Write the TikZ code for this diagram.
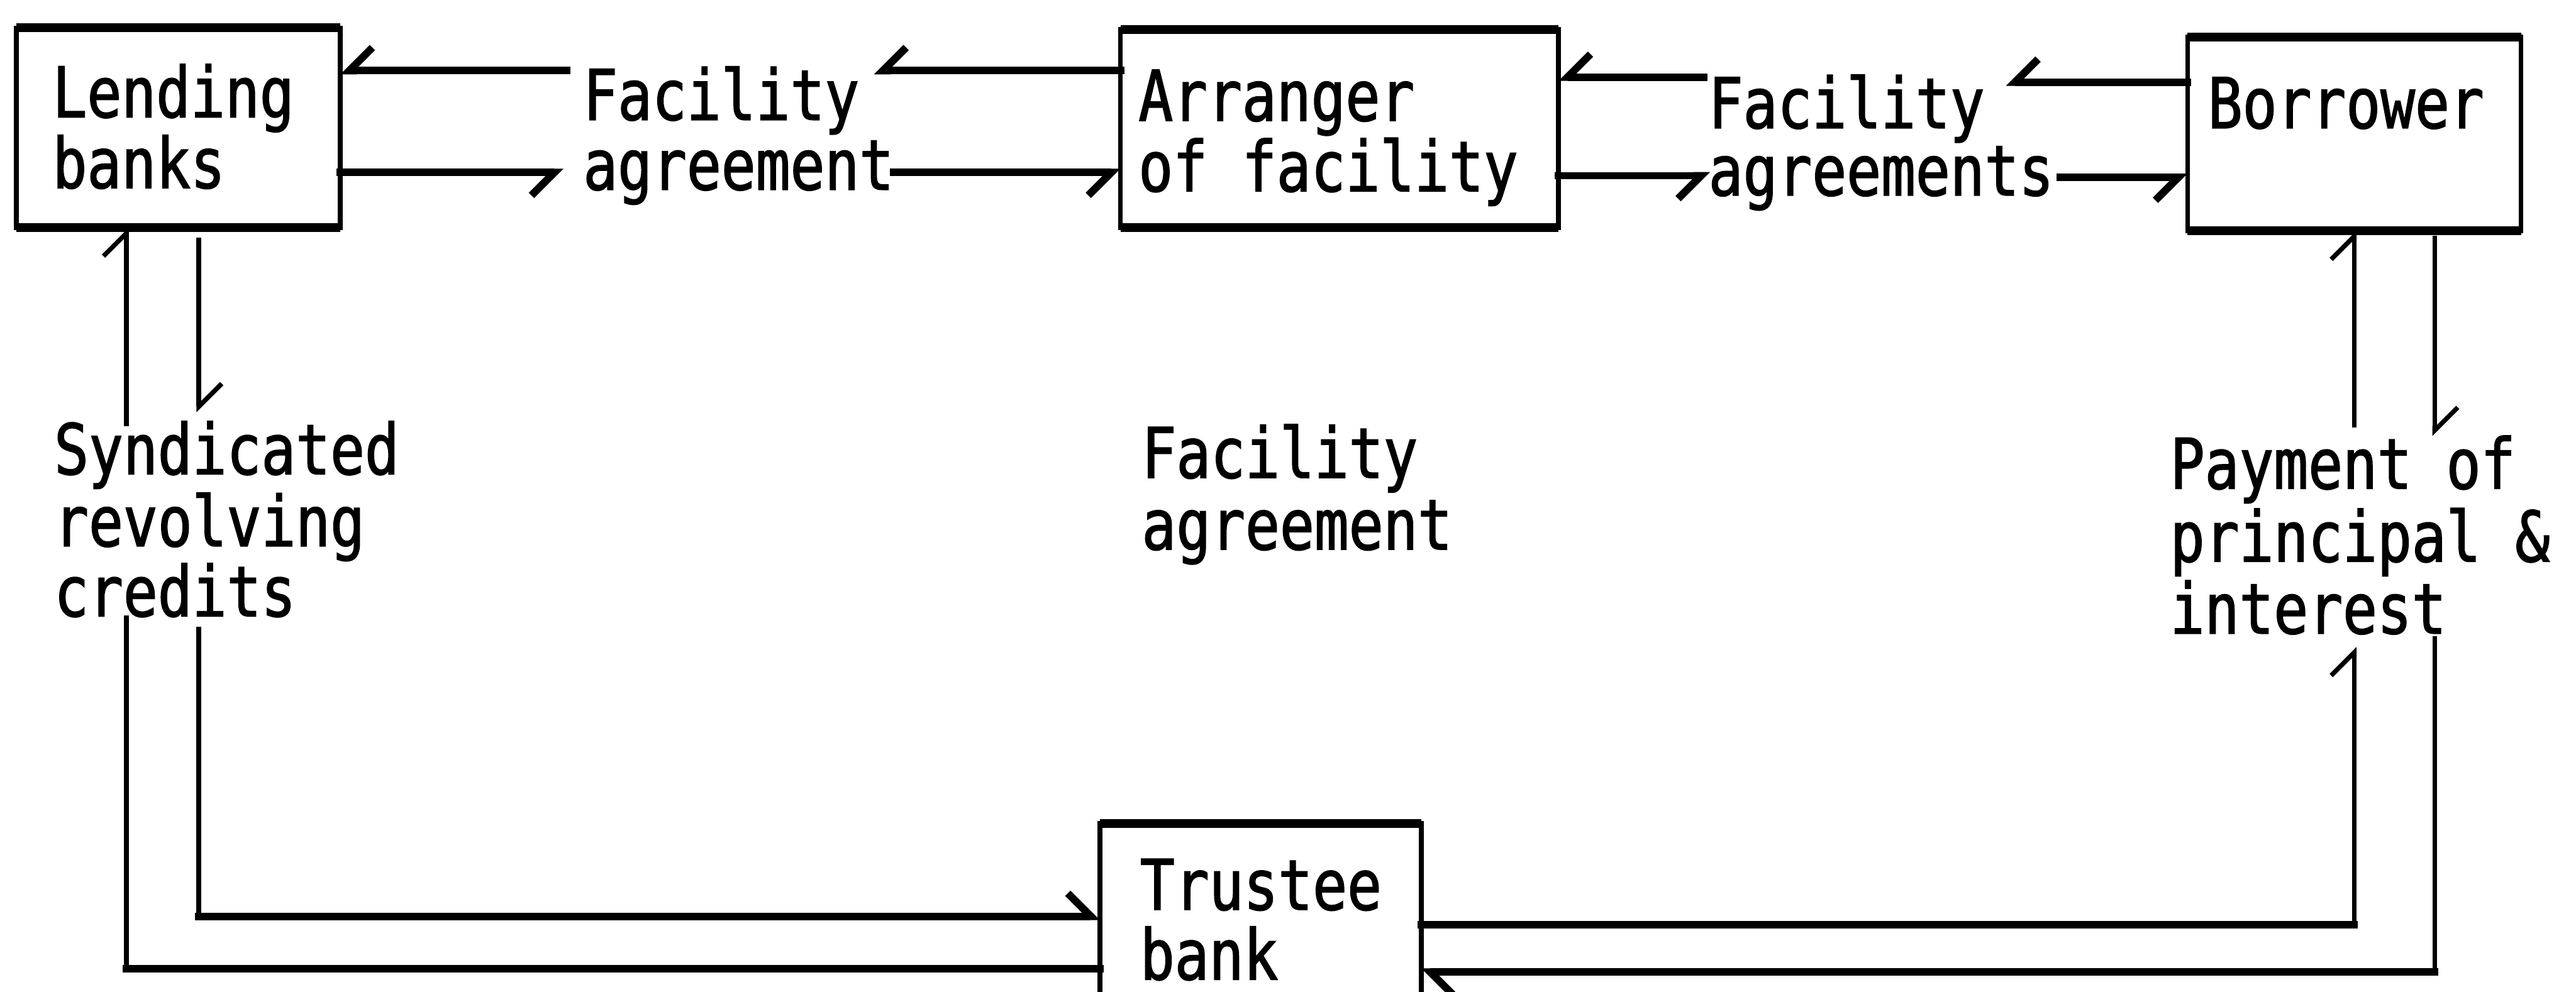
\documentclass[tikz,border=0pt]{standalone}
\usepackage{fontspec}
\newfontfamily\tw{DejaVu Sans Mono}[FakeStretch=0.82,FakeBold=1.5]
\usetikzlibrary{arrows.meta}
\tikzset{
  box/.style={draw, line width=0.8pt, inner sep=0pt, outer sep=0pt, anchor=north west},
  edgeh/.style={line width=1.5pt},
  lbl/.style={anchor=base west, inner sep=0pt, outer sep=0pt, font=\tw\fontsize{12.1pt}{12.4pt}\selectfont},
  hconn/.style={line width=1.3pt, line cap=rect},
  vconn/.style={line width=0.8pt, line cap=rect},
  tipR/.style={-{Straight Barb[harpoon,swap,length=1.4mm,width=2.8mm]}},
  tipL/.style={-{Straight Barb[harpoon,length=1.4mm,width=2.8mm]}},
}
\begin{document}
\begin{tikzpicture}[x=0.01cm, y=-0.01cm]
\useasboundingbox (0,0) rectangle (1568,604);
\fill[white] (0,0) rectangle (1568,604);
\clip (0,0) rectangle (1568,604);

% boxes
\node[box, minimum width=1.97cm, minimum height=1.215cm] (lend) at (10,17) {};
\node[box, minimum width=2.665cm, minimum height=1.205cm] (arr) at (682,18) {};
\node[box, minimum width=2.03cm, minimum height=1.18cm] (bor) at (1331.5,22.5) {};
\node[box, minimum width=1.955cm, minimum height=1.385cm] (tru) at (669.5,501.5) {};
\foreach \b in {lend,arr,bor,tru}{
  \draw[edgeh] (\b.north west) -- (\b.north east);
  \draw[edgeh] (\b.south west) -- (\b.south east);
}

% box texts
\node[lbl] (lendA) at (32,71.4) {Lending};
\node[lbl] (lendB) at (32,114.5) {banks};
\node[lbl] (arrA) at (693,73.5) {Arranger};
\node[lbl] (arrB) at (693,116.5) {of facility};
\node[lbl] (borA) at (1344,78) {Borrower};
\node[lbl] (truA) at (694,554) {Trustee};
\node[lbl] (truB) at (694,596.5) {bank};

% labels
\node[lbl] (fl1) at (355,73) {Facility};
\node[lbl] (fl2) at (355,115.5) {agreement};
\node[lbl] (fr1) at (1040,78) {Facility};
\node[lbl] (fr2) at (1040,119) {agreements};
\node[lbl] (fm1) at (695,291) {Facility};
\node[lbl] (fm2) at (695,334.6) {agreement};
\node[lbl] (sy1) at (33,288.8) {Syndicated};
\node[lbl] (sy2) at (33,332.6) {revolving};
\node[lbl] (sy3) at (33,375.3) {credits};
\node[lbl] (pa1) at (1321,297.6) {Payment of};
\node[lbl] (pa2) at (1321,342) {principal \&};
\node[lbl] (pa3) at (1321,385.8) {interest};

% top row, left
\coordinate (fa1) at (345,43);
\coordinate (fa2) at (532,43);
\coordinate (fa3) at (343,105);
\coordinate (fa4) at (544,105);
\draw[hconn,tipR] (fa1) -- (lend.east |- fa1);
\draw[hconn,tipR] (arr.west |- fa2) -- (fa2);
\draw[hconn,tipR] (lend.east |- fa3) -- (fa3);
\draw[hconn,tipR] (fa4) -- (arr.west |- fa4);

% top row, right
\coordinate (fb1) at (1037,47);
\coordinate (fb2) at (1221,50);
\coordinate (fb3) at (1041,107);
\coordinate (fb4) at (1254,108);
\draw[hconn,tipR] (fb1) -- (arr.east |- fb1);
\draw[hconn,tipR] (bor.west |- fb2) -- (fb2);
\draw[hconn,tipR] (arr.east |- fb3) -- (fb3);
\draw[hconn,tipR] (fb4) -- (bor.west |- fb4);

% left side
\coordinate (l1) at (77,590);
\coordinate (l2) at (77,376);
\coordinate (l3) at (77,258);
\coordinate (l4) at (121,146);
\coordinate (l5) at (121,251);
\coordinate (l6) at (121,383);
\coordinate (l7) at (121,558);
\draw[hconn] (tru.west |- l1) -- (l1);
\draw[vconn] (l1) -- (l2);
\draw[vconn,tipL] (l3) -- (lend.south -| l3);
\draw[vconn,tipL] (l4) -- (l5);
\draw[vconn] (l6) -- (l7);
\draw[hconn,tipL] (l7) -- (tru.west |- l7);

% right side
\coordinate (r1) at (1433,563);
\coordinate (r2) at (1433,394);
\coordinate (r3) at (1433,259);
\coordinate (r4) at (1482,145);
\coordinate (r5) at (1482,265.5);
\coordinate (r6) at (1482,389);
\coordinate (r7) at (1482,592);
\draw[hconn] (tru.east |- r1) -- (r1);
\draw[vconn,tipL] (r1) -- (r2);
\draw[vconn,tipL] (r3) -- (bor.south -| r3);
\draw[vconn,tipL] (r4) -- (r5);
\draw[vconn] (r6) -- (r7);
\draw[hconn,tipL] (r7) -- (tru.east |- r7);
\end{tikzpicture}
\end{document}
